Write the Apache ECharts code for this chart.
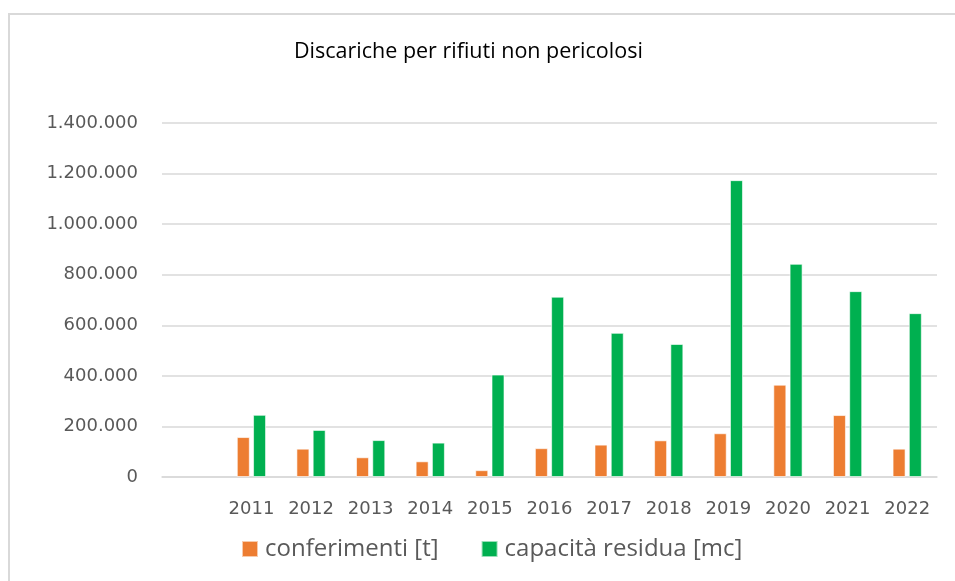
<!DOCTYPE html>
<html>
<head>
<meta charset="utf-8">
<script src="https://cdn.jsdelivr.net/npm/echarts@6/dist/echarts.min.js"></script>
<style>
    html, body { margin: 0; padding: 0; background: #fff; overflow: hidden; }
    #frame {
        position: absolute; left: 8px; top: 13px; width: 1000px; height: 700px;
        border-left: 2px solid #d9d9d9; border-top: 2px solid #d9d9d9;
    }
    #chart { position: absolute; left: 0; top: 0; width: 955px; height: 581px; }
</style>
</head>
<body>
<div id="frame"></div>
<div id="chart"></div>
<script>
// first slot is left empty, as in the original sheet
var years = ['', '2011', '2012', '2013', '2014', '2015', '2016', '2017', '2018', '2019', '2020', '2021', '2022'];
var conferimenti = [null, 158000, 112000, 78000, 62000, 27000, 114000, 128000, 145000, 173000, 365000, 245000, 112000];
var capacita = [null, 246000, 186000, 146000, 136000, 405000, 713000, 570000, 526000, 1174000, 843000, 735000, 648000];
var series_names = ['conferimenti [t]', 'capacità residua [mc]'];

function fmt_it(v) {
    return String(v).replace(/\B(?=(\d{3})+(?!\d))/g, '.');
}

var option = {
    animation: false,
    title: {
        text: 'Discariche per rifiuti non pericolosi',
        left: 294,
        top: 41,
        padding: 0,
        textStyle: { fontFamily: 'Open Sans', fontSize: 21.5, fontWeight: 'normal', color: '#000' }
    },
    legend: {
        data: series_names,
        left: 241,
        top: 537,
        padding: 0,
        itemWidth: 16,
        itemHeight: 16,
        itemGap: 42,
        icon: 'rect',
        textStyle: { fontFamily: 'Open Sans', fontSize: 24, color: '#595959', padding: [0, 0, 0, 2] }
    },
    grid: { left: 162, right: 18, top: 123, bottom: 104, containLabel: false },
    xAxis: {
        type: 'category',
        data: years,
        axisLine: { lineStyle: { color: '#d9d9d9', width: 1.5 } },
        axisTick: { show: false },
        axisLabel: { fontFamily: 'DejaVu Sans', fontSize: 18, color: '#595959', margin: 23 }
    },
    yAxis: {
        type: 'value',
        min: 0,
        max: 1400000,
        interval: 200000,
        axisLine: { show: false },
        axisTick: { show: false },
        splitLine: { lineStyle: { color: '#d9d9d9', width: 1.5 } },
        axisLabel: {
            fontFamily: 'DejaVu Sans', fontSize: 18, color: '#595959', margin: 24,
            formatter: fmt_it
        }
    },
    series: [
        {
            name: series_names[0],
            type: 'bar',
            data: conferimenti,
            barWidth: 13,
            barGap: '25%',
            itemStyle: { color: '#ED7D31', borderColor: 'rgba(255,255,255,0.6)', borderWidth: 1 }
        },
        {
            name: series_names[1],
            type: 'bar',
            data: capacita,
            barWidth: 13,
            barGap: '25%',
            itemStyle: { color: '#00B050', borderColor: 'rgba(255,255,255,0.6)', borderWidth: 1 }
        }
    ]
};

var myChart = echarts.init(document.getElementById('chart'));
myChart.setOption(option);
</script>
</body>
</html>
